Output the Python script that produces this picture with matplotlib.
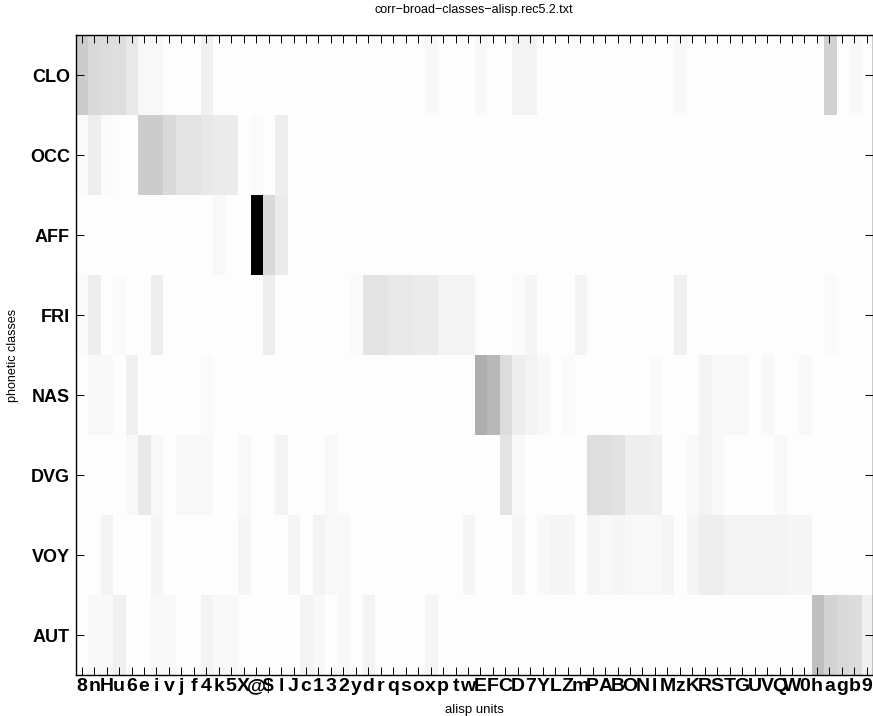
import numpy as np
import matplotlib
matplotlib.use('Agg')
import matplotlib.pyplot as plt

plt.rcParams['font.family'] = 'Liberation Sans'

# classes (rows) and alisp units (columns)
classes = ['CLO', 'OCC', 'AFF', 'FRI', 'NAS', 'DVG', 'VOY', 'AUT']
units = list('8nHu6eivjf4k5X@$lJc132ydrqsoxptwEFCD7YLZmPABONIMzKRSTGUVQW0hagb9')

# correlation strength (0 = white, 100 = black)
clo = [20, 15, 14, 13, 9, 3, 3, 1, 1, 1, 6, 1, 1, 1, 1, 1, 1, 1, 1, 1,
       1, 1, 1, 1, 1, 1, 1, 1, 3, 1, 1, 1, 3, 1, 1, 5, 5, 1, 1, 1,
       1, 1, 1, 1, 1, 1, 1, 1, 3, 1, 1, 1, 1, 1, 1, 1, 1, 1, 1, 1,
       18, 1, 3, 1]
occ = [2, 7, 2, 1, 1, 20, 20, 15, 11, 11, 9, 8, 8, 1, 2, 1, 7, 1, 1, 1,
       1, 1, 1, 1, 1, 1, 1, 1, 1, 1, 1, 1, 1, 1, 1, 1, 1, 1, 1, 1,
       1, 1, 1, 1, 1, 1, 1, 1, 1, 1, 1, 1, 1, 1, 1, 1, 1, 1, 1, 1,
       1, 1, 1, 1]
aff = [1, 1, 1, 1, 1, 1, 1, 1, 1, 1, 1, 3, 1, 1, 100, 15, 8, 1, 1, 1,
       1, 1, 1, 1, 1, 1, 1, 1, 1, 1, 1, 1, 1, 1, 1, 1, 1, 1, 1, 1,
       1, 1, 1, 1, 1, 1, 1, 1, 1, 1, 1, 1, 1, 1, 1, 1, 1, 1, 1, 1,
       1, 1, 1, 1]
fri = [2, 7, 1, 2, 1, 1, 7, 1, 1, 1, 1, 1, 1, 1, 1, 7, 1, 1, 1, 1,
       1, 1, 2, 11, 11, 9, 9, 8, 8, 5, 5, 5, 1, 1, 1, 2, 4, 1, 1, 1,
       5, 1, 1, 1, 1, 1, 1, 1, 6, 1, 1, 1, 1, 1, 1, 1, 1, 1, 1, 1,
       2, 1, 1, 1]
nas = [1, 3, 3, 1, 6, 1, 1, 1, 1, 1, 2, 1, 1, 1, 1, 1, 1, 1, 1, 1,
       1, 1, 1, 1, 1, 1, 1, 1, 1, 1, 1, 1, 32, 28, 14, 7, 5, 3, 1, 2,
       1, 1, 1, 1, 1, 1, 2, 1, 1, 1, 5, 3, 3, 3, 1, 3, 1, 1, 3, 1,
       1, 1, 1, 1]
dvg = [1, 1, 1, 1, 3, 9, 3, 1, 3, 3, 3, 1, 1, 3, 1, 1, 5, 1, 1, 1,
       3, 1, 1, 1, 1, 1, 1, 1, 1, 1, 1, 1, 1, 1, 11, 3, 1, 1, 1, 1,
       1, 13, 13, 12, 7, 7, 6, 1, 1, 3, 5, 3, 1, 1, 1, 1, 3, 1, 1, 1,
       1, 1, 1, 1]
voy = [1, 1, 5, 1, 1, 1, 4, 1, 1, 1, 1, 1, 1, 4, 1, 1, 1, 4, 1, 5,
       3, 3, 1, 1, 1, 1, 1, 1, 1, 1, 1, 4, 1, 1, 1, 4, 1, 3, 4, 4,
       1, 4, 3, 4, 3, 3, 3, 4, 1, 4, 7, 7, 5, 5, 5, 5, 5, 4, 4, 1,
       1, 1, 1, 1]
aut = [1, 3, 3, 6, 1, 1, 3, 3, 1, 1, 5, 3, 3, 1, 1, 1, 1, 1, 5, 3,
       1, 3, 1, 5, 1, 1, 1, 1, 4, 1, 1, 1, 1, 1, 1, 1, 1, 1, 1, 1,
       1, 1, 1, 1, 1, 1, 1, 1, 1, 1, 1, 1, 1, 1, 1, 1, 1, 1, 1, 25,
       17, 15, 14, 6]

mat = np.array([clo, occ, aff, fri, nas, dvg, voy, aut], dtype=float)

fig = plt.figure(figsize=(8.73, 7.16), dpi=100)
ax = fig.add_axes([75.5 / 873, 41 / 716, 1 - 75.5 / 873, 640 / 716])
ax.imshow(mat, cmap='gray_r', vmin=0, vmax=100, aspect='auto', interpolation='nearest')

ax.set_xticks(np.arange(len(units)))
ax.set_xticklabels(units, fontsize=14, fontweight='bold')
ax.set_yticks(np.arange(len(classes)))
ax.set_yticklabels(classes, fontsize=13, fontweight='bold')
ax.tick_params(direction='in', top=True, right=True, length=5.8, width=0.7)
ax.tick_params(axis='x', pad=2)
ax.tick_params(axis='y', pad=4)
for s in ax.spines.values():
    s.set_linewidth(1.0)

ax.set_xlabel('alisp units', fontsize=9.5, labelpad=7)
ax.set_ylabel('phonetic classes', fontsize=9, labelpad=8)
ax.set_title('corr\u2212broad\u2212classes\u2212alisp.rec5.2.txt', fontsize=9, pad=16)

fig.savefig('out.png', dpi=100)
